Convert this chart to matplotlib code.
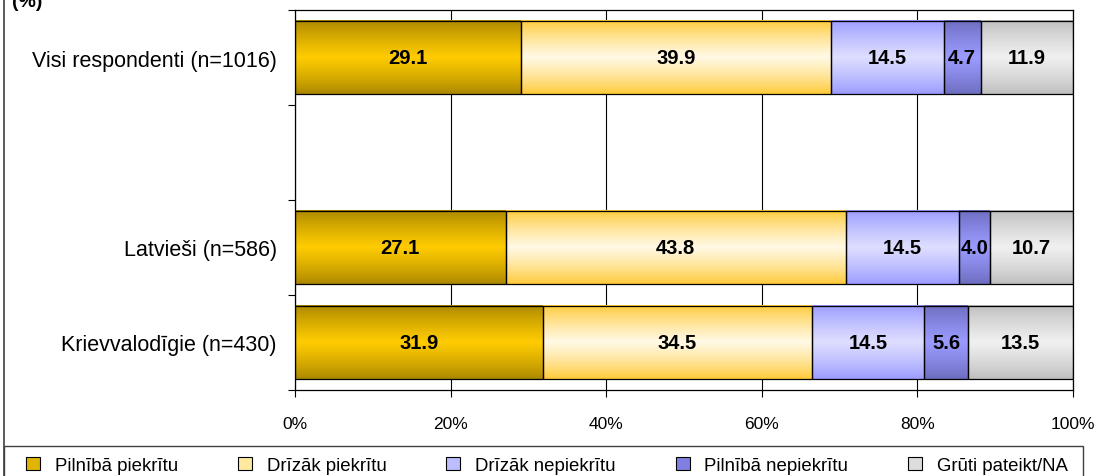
import numpy as np
import matplotlib
matplotlib.use("Agg")
import matplotlib.pyplot as plt
from matplotlib.colors import LinearSegmentedColormap
from matplotlib.patches import Patch, Rectangle
from matplotlib.lines import Line2D

plt.rcParams['font.family'] = ['Liberation Sans', 'DejaVu Sans']

# data
groups = ['Visi respondenti (n=1016)', '', 'Latvieši (n=586)', 'Krievvalodīgie (n=430)']
answers = ['Pilnībā piekrītu', 'Drīzāk piekrītu', 'Drīzāk nepiekrītu',
           'Pilnībā nepiekrītu', 'Grūti pateikt/NA']
pilniba_piekritu = [29.1, None, 27.1, 31.9]
drizak_piekritu = [39.9, None, 43.8, 34.5]
drizak_nepiekritu = [14.5, None, 14.5, 14.5]
pilniba_nepiekritu = [4.7, None, 4.0, 5.6]
gruti_pateikt = [11.9, None, 10.7, 13.5]
x_ticks = [0, 20, 40, 60, 80, 100]

series = [pilniba_piekritu, drizak_piekritu, drizak_nepiekritu,
          pilniba_nepiekritu, gruti_pateikt]
# (edge colour, centre colour) of each gradient
grads = [('#a88500', '#ffcc00'),
         ('#ffc933', '#fff9e6'),
         ('#9999ff', '#dedeff'),
         ('#6b6bbd', '#9b9bff'),
         ('#bdbdbd', '#f0f0f0')]
legend_col = ['#e0b400', '#ffe9a0', '#bcbcff', '#8080e0', '#dcdcdc']

fig = plt.figure(figsize=(10.99, 4.77), dpi=100)
ax = fig.add_axes([295 / 1099, 1 - 391 / 477, (1073 - 295) / 1099, (391 - 11) / 477])

ypos = np.arange(len(groups))[::-1]
bar_h = 0.77

# gradient profile: dark at the edges, light in the middle
t = np.linspace(-1, 1, 200)
prof = (1 - np.abs(t)) ** 0.8
prof = prof.reshape(-1, 1)

for gi, gname in enumerate(groups):
    if series[0][gi] is None:
        continue
    vals = np.array([s[gi] for s in series], dtype=float)
    vals = vals / vals.sum() * 100
    left = 0.0
    for si, v in enumerate(vals):
        cont = ax.barh(ypos[gi], v, left=left, height=bar_h,
                       facecolor='none', edgecolor='black', linewidth=0.9, zorder=3)
        p = cont.patches[0]
        cmap = LinearSegmentedColormap.from_list('g', grads[si])
        ax.imshow(prof, extent=[p.get_x(), p.get_x() + p.get_width(),
                                p.get_y(), p.get_y() + p.get_height()],
                  aspect='auto', cmap=cmap, vmin=0, vmax=1,
                  interpolation='bilinear', zorder=2)
        ax.text(left + v / 2, ypos[gi], f'{series[si][gi]:.1f}', ha='center', va='center',
                fontsize=14.5, fontweight='bold', zorder=4)
        left += v

ax.set_xlim(0, 100)
ax.set_ylim(-0.5, len(groups) - 0.5)
ax.set_xticks(x_ticks)
ax.set_xticklabels([f'{v}%' for v in x_ticks], fontsize=12.5)
ax.set_yticks(ypos)
ax.set_yticklabels(groups, fontsize=15.5)
ax.set_yticks(np.arange(-0.5, len(groups), 1.0), minor=True)
ax.tick_params(axis='y', which='major', length=0, pad=13)
ax.tick_params(axis='y', which='minor', length=5, width=0.8, direction='out')
ax.tick_params(axis='x', length=5, width=0.8, direction='out', pad=14)
ax.xaxis.grid(True, color='black', linewidth=0.8, zorder=0)
ax.set_axisbelow(True)
for sp in ax.spines.values():
    sp.set_linewidth(0.9)

# frame of the outer chart and legend box
fig.add_artist(Line2D([4 / 1099, 4 / 1099], [0, 1], color='#404040', linewidth=1.2))
fig.add_artist(Rectangle((4 / 1099, -0.01), (1083 - 4) / 1099, 0.01 + 1 - 447 / 477,
                         fill=False, edgecolor='#404040', linewidth=1.0))

handles = [Patch(facecolor=c, edgecolor='black', linewidth=0.8) for c in legend_col]
fig.legend(handles, answers, loc='lower left', mode='expand',
           bbox_to_anchor=(26 / 1099, 1 - 475 / 477, 1042 / 1099, 20 / 477),
           ncol=5, frameon=False, fontsize=13.4, handlelength=0.75, handleheight=0.75,
           handletextpad=0.8, columnspacing=1.0, borderaxespad=0, borderpad=0)

fig.text(12 / 1099, 1 - 7 / 477, '(%)', fontsize=14, fontweight='bold', va='baseline')

fig.savefig('out.png', dpi=100)
